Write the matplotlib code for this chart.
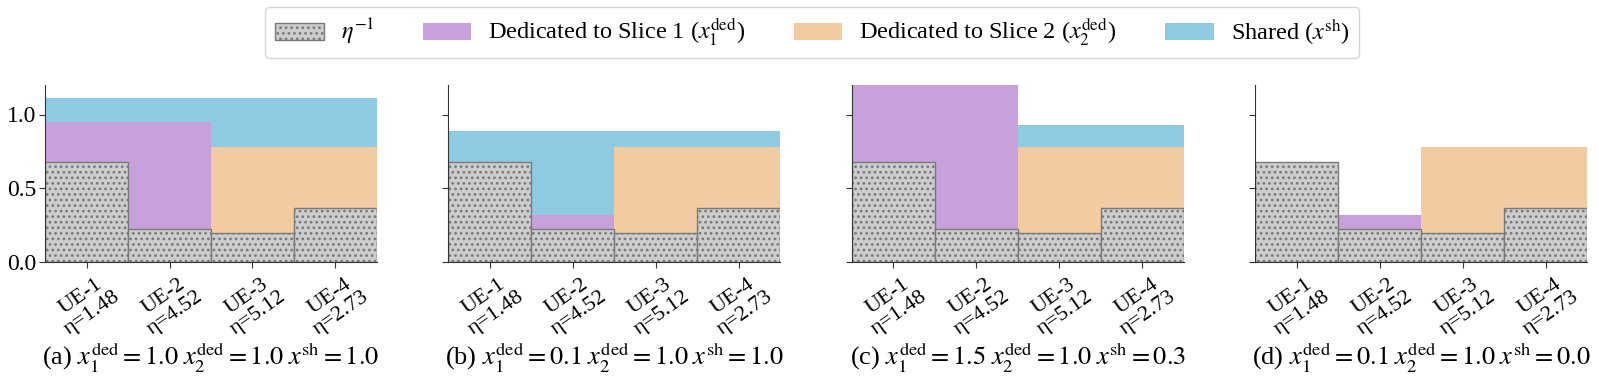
import matplotlib
matplotlib.use("Agg")
import matplotlib.pyplot as plt
from matplotlib.patches import Patch
import numpy as np

plt.rcParams['font.family'] = ['Liberation Serif', 'DejaVu Serif']
plt.rcParams['mathtext.fontset'] = 'stix'
plt.rcParams['hatch.linewidth'] = 1.2

# ---- data ----
ue_names = ["UE-1", "UE-2", "UE-3", "UE-4"]
eta = [1.48, 4.52, 5.12, 2.73]
inv_eta = [0.676, 0.221, 0.195, 0.366]
slice_of_ue = [1, 1, 2, 2]

panel_tags = ["(a)", "(b)", "(c)", "(d)"]
x1_ded = [1.0, 0.1, 1.5, 0.1]
x2_ded = [1.0, 1.0, 1.0, 1.0]
x_sh = [1.0, 1.0, 0.3, 0.0]
# water levels
slice1_level = [0.949, 0.321, 1.199, 0.321]
slice2_level = [0.780, 0.780, 0.780, 0.780]
shared_level = [1.114, 0.889, 0.930, 0.0]

c_grey = '#cdcdcd'
c_edge = '#7a7a7a'
c_s1 = '#c8a0dc'
c_s2 = '#f3cba3'
c_sh = '#8ecbe3'

fig = plt.figure(figsize=(15.99, 3.81), dpi=100)
W, H = 1599, 381
lefts = [45, 448.3, 851.7, 1255]
aw = 332
top_px, bot_px = 85, 262

x = np.arange(len(ue_names))
tick_labels = [f"{n}\nη={e:.2f}" for n, e in zip(ue_names, eta)]

for p in range(4):
    ax = fig.add_axes([lefts[p] / W, (H - bot_px) / H, aw / W, (bot_px - top_px) / H])
    base = np.array(inv_eta)
    lvl = np.array([slice1_level[p] if s == 1 else slice2_level[p] for s in slice_of_ue])
    ded_top = np.maximum(base, lvl)
    sh_top = np.maximum(ded_top, shared_level[p])
    s1 = np.array([s == 1 for s in slice_of_ue])
    ax.bar(x[s1], (ded_top - base)[s1], bottom=base[s1], width=1.0, color=c_s1, linewidth=0)
    ax.bar(x[~s1], (ded_top - base)[~s1], bottom=base[~s1], width=1.0, color=c_s2, linewidth=0)
    ax.bar(x, sh_top - ded_top, bottom=ded_top, width=1.0, color=c_sh, linewidth=0)
    ax.bar(x, base, width=1.0, color=c_grey, edgecolor=c_edge, hatch='...', linewidth=1.0)
    ax.set_xlim(-0.5, 3.5)
    ax.set_ylim(0, 1.2)
    ax.set_yticks([0.0, 0.5, 1.0])
    if p == 0:
        ax.set_yticklabels(["0.0", "0.5", "1.0"], fontsize=17)
    else:
        ax.set_yticklabels([])
    ax.set_xticks(x)
    ax.set_xticklabels(tick_labels, rotation=35, ha='center', fontsize=16, linespacing=1.1)
    ax.spines['top'].set_visible(False)
    ax.spines['right'].set_visible(False)
    ax.spines['left'].set_color('#333333')
    ax.spines['bottom'].set_color('#333333')
    ax.tick_params(length=4, color='#333333', pad=2)
    cap = (panel_tags[p] + r" $x_1^{\mathrm{ded}}=" + f"{x1_ded[p]:.1f}" +
           r"\;x_2^{\mathrm{ded}}=" + f"{x2_ded[p]:.1f}" +
           r"\;x^{\mathrm{sh}}=" + f"{x_sh[p]:.1f}$")
    ax.text(0.5, -0.54, cap, transform=ax.transAxes, ha='center', va='center', fontsize=19)

handles = [
    Patch(facecolor=c_grey, edgecolor=c_edge, hatch='...', linewidth=1.0),
    Patch(facecolor=c_s1, linewidth=0),
    Patch(facecolor=c_s2, linewidth=0),
    Patch(facecolor=c_sh, linewidth=0),
]
labels = [r"$\eta^{-1}$",
          r"Dedicated to Slice 1 ($x_1^{\mathrm{ded}}$)",
          r"Dedicated to Slice 2 ($x_2^{\mathrm{ded}}$)",
          r"Shared ($x^{\mathrm{sh}}$)"]
fig.legend(handles, labels, loc='upper center', bbox_to_anchor=(0.508, 1 - 7 / H),
           borderaxespad=0, ncol=4, fontsize=17.5, frameon=True, handlelength=2.0,
           handleheight=0.7, handletextpad=0.7, columnspacing=2.0, borderpad=0.4)

fig.savefig("out.png", dpi=100)
